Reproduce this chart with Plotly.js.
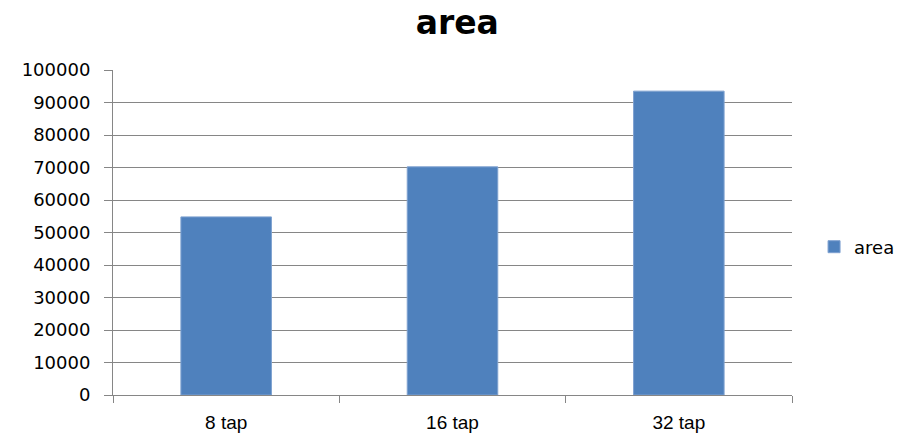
<!DOCTYPE html>
<html>
<head>
<meta charset="utf-8">
<script src="https://cdn.plot.ly/plotly-3.0.1.min.js"></script>
<style>html,body{margin:0;padding:0;background:#fff;}#chart{width:901px;height:436px;}</style>
</head>
<body>
<div id="chart"></div>
<script>
const categories = ["8 tap", "16 tap", "32 tap"];
const areaValues = [54800, 70200, 93500];
const seriesName = "area";
const chartTitle = "area";

const trace = {
  type: "bar",
  x: categories,
  y: areaValues,
  name: seriesName,
  marker: {color: "#4F81BD", line: {color: "#7EA1D0", width: 1}},
  showlegend: true
};

const layout = {
  width: 901,
  height: 436,
  margin: {l: 113, r: 109, t: 70, b: 41},
  paper_bgcolor: "#ffffff",
  plot_bgcolor: "#ffffff",
  bargap: 0.6,
  title: {
    text: chartTitle,
    font: {family: "DejaVu Sans", size: 33, color: "#000000", weight: "bold"},
    x: 0.507, xref: "paper", xanchor: "center",
    y: 0.948, yref: "container", yanchor: "middle"
  },
  xaxis: {
    type: "category",
    tickson: "boundaries",
    ticks: "outside",
    ticklen: 7,
    tickcolor: "#868686",
    showline: true,
    linecolor: "#868686",
    linewidth: 1,
    showgrid: false,
    ticklabelstandoff: 10,
    tickfont: {family: "Liberation Sans", size: 19, color: "#000000"},
    zeroline: false,
    automargin: false
  },
  yaxis: {
    range: [0, 100000],
    dtick: 10000,
    tick0: 0,
    ticks: "outside",
    ticklen: 8,
    tickcolor: "#868686",
    showline: true,
    linecolor: "#868686",
    linewidth: 1,
    showgrid: true,
    gridcolor: "#868686",
    gridwidth: 1,
    zeroline: false,
    tickformat: "d",
    ticklabelstandoff: 10,
    tickfont: {family: "DejaVu Sans", size: 18, color: "#000000"},
    automargin: false
  },
  legend: {
    xref: "container", yref: "container",
    x: 0.9035, xanchor: "left",
    y: 1 - 247 / 436, yanchor: "middle",
    font: {family: "DejaVu Sans", size: 18, color: "#000000"},
    bgcolor: "rgba(0,0,0,0)",
    itemwidth: 30
  }
};

Plotly.newPlot("chart", [trace], layout, {displayModeBar: false, staticPlot: true});
</script>
</body>
</html>
